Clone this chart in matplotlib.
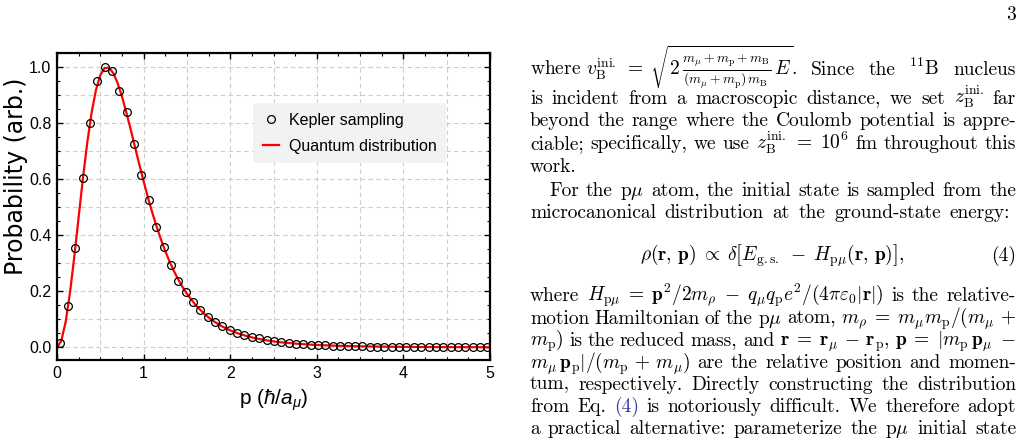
import matplotlib
matplotlib.use("Agg")
import matplotlib.pyplot as plt
from matplotlib.ticker import MultipleLocator
import numpy as np

# ---------------- data ----------------
kepler_p = [0.040, 0.125, 0.210, 0.295, 0.380, 0.465, 0.550, 0.635, 0.720, 0.805,
            0.890, 0.975, 1.060, 1.145, 1.230, 1.315, 1.400, 1.485, 1.570, 1.655,
            1.740, 1.825, 1.910, 1.995, 2.080, 2.165, 2.250, 2.335, 2.420, 2.505,
            2.590, 2.675, 2.760, 2.845, 2.930, 3.015, 3.100, 3.185, 3.270, 3.355,
            3.440, 3.525, 3.610, 3.695, 3.780, 3.865, 3.950, 4.035, 4.120, 4.205,
            4.290, 4.375, 4.460, 4.545, 4.630, 4.715, 4.800, 4.885, 4.970]
kepler_prob = [0.017, 0.147, 0.355, 0.605, 0.800, 0.950, 1.000, 0.987, 0.914, 0.838,
               0.727, 0.614, 0.526, 0.430, 0.358, 0.295, 0.237, 0.198, 0.161, 0.132,
               0.109, 0.090, 0.075, 0.062, 0.052, 0.044, 0.037, 0.032, 0.027, 0.022,
               0.019, 0.015, 0.013, 0.011, 0.010, 0.008, 0.007, 0.006, 0.005, 0.005,
               0.004, 0.004, 0.003, 0.003, 0.003, 0.002, 0.002, 0.002, 0.002, 0.001,
               0.001, 0.001, 0.001, 0.001, 0.001, 0.001, 0.001, 0.001, 0.001]

quantum_p = [0.0, 0.05, 0.10, 0.15, 0.20, 0.25, 0.30, 0.35, 0.40, 0.45, 0.50, 0.55,
             0.60, 0.65, 0.70, 0.75, 0.80, 0.85, 0.90, 0.95, 1.00, 1.05, 1.10, 1.15,
             1.20, 1.25, 1.30, 1.35, 1.40, 1.45, 1.50, 1.60, 1.70, 1.80, 1.90, 2.00,
             2.10, 2.20, 2.30, 2.40, 2.50, 2.60, 2.80, 3.00, 3.25, 3.50, 3.75, 4.00,
             4.25, 4.50, 5.00]
quantum_prob = [0.0, 0.0235, 0.0911, 0.1952, 0.3242, 0.4650, 0.6045, 0.7316, 0.8378,
                0.9182, 0.9709, 0.9965, 0.9978, 0.9783, 0.9426, 0.8948, 0.8388, 0.7782,
                0.7156, 0.6532, 0.5926, 0.5349, 0.4809, 0.4310, 0.3852, 0.3436, 0.3060,
                0.2723, 0.2421, 0.2152, 0.1912, 0.1511, 0.1197, 0.0951, 0.0758, 0.0607,
                0.0488, 0.0395, 0.0320, 0.0262, 0.0214, 0.0177, 0.0122, 0.0085, 0.0056,
                0.0038, 0.0026, 0.0018, 0.0013, 0.0009, 0.0005]

x_ticks = [0, 1, 2, 3, 4, 5]
y_ticks = [0.0, 0.2, 0.4, 0.6, 0.8, 1.0]
x_tick_labels = ["0", "1", "2", "3", "4", "5"]
y_tick_labels = ["0.0", "0.2", "0.4", "0.6", "0.8", "1.0"]
legend_labels = ["Kepler sampling", "Quantum distribution"]
x_label = r"p ($\hbar/a_\mu$)"
y_label = "Probability (arb.)"

# ---------------- figure ----------------
W, H = 1025, 441
plt.rcParams['mathtext.rm'] = 'Liberation Sans'
plt.rcParams['mathtext.it'] = 'Liberation Sans:italic'
plt.rcParams['mathtext.bf'] = 'Liberation Sans:bold'
plt.rcParams['axes.unicode_minus'] = False
SANS = 'Liberation Sans'

fig = plt.figure(figsize=(W / 100, H / 100), dpi=100)
fig.patch.set_facecolor('white')

ax = fig.add_axes([57 / W, 1 - 360 / H, (490 - 57) / W, (360 - 53) / H])
ax.set_xlim(0, 5)
ax.set_ylim(-0.045, 1.05)

# grid (dashed)
for gx in np.arange(0.5, 5.0, 0.5):
    ax.axvline(gx, color='#cccccc', lw=0.8, ls=(0, (4, 3)), zorder=0)
for gy in np.arange(0.0, 1.01, 0.1):
    ax.axhline(gy, color='#cccccc', lw=0.8, ls=(0, (4, 3)), zorder=0)

ax.plot(quantum_p, quantum_prob, color='#ff0000', lw=1.6, zorder=2,
        label=legend_labels[1])
ax.plot(kepler_p, kepler_prob, ls='none', marker='o', ms=5.6, mfc='none',
        mec='black', mew=0.9, zorder=3, label=legend_labels[0])

ax.set_xticks(x_ticks)
ax.set_xticklabels(x_tick_labels)
ax.set_yticks(y_ticks)
ax.set_yticklabels(y_tick_labels)
ax.xaxis.set_minor_locator(MultipleLocator(0.25))
ax.yaxis.set_minor_locator(MultipleLocator(0.05))
ax.tick_params(which='both', direction='in', top=True, right=True, colors='black')
ax.tick_params(which='major', length=4, width=1.0, labelsize=11.5, pad=4)
ax.tick_params(which='minor', length=2, width=0.8)
for lab in ax.get_xticklabels() + ax.get_yticklabels():
    lab.set_family(SANS)
for sp in ax.spines.values():
    sp.set_linewidth(1.6)
    sp.set_color('black')

ax.set_xlabel(x_label, fontsize=15, family=SANS, math_fontfamily='custom', labelpad=5)
ax.set_ylabel(y_label, fontsize=17, family='DejaVu Sans')
ax.yaxis.set_label_coords(-0.066, 0.599)

handles, labels = ax.get_legend_handles_labels()
leg = ax.legend([handles[1], handles[0]], [labels[1], labels[0]],
                loc='upper left', bbox_to_anchor=(0.453, 0.837), borderaxespad=0,
                prop={'family': SANS, 'size': 11.5}, frameon=True, fancybox=True,
                facecolor='#f2f2f2', edgecolor='none', framealpha=1,
                handlelength=1.0, handletextpad=0.65, borderpad=0.6, labelspacing=0.7)

# ---------------- page text (right column) ----------------
FS = 14
renderer = fig.canvas.get_renderer()
X0, X1 = 530, 1016
SPACE = FS * 100 / 72 * 0.333


def place_line(tokens, ybase, x0=X0, x1=X1, justify=True):
    texts = []
    for tok in tokens:
        if isinstance(tok, tuple):
            s, c = tok
        else:
            s, c = tok, 'black'
        t = fig.text(0, 1 - ybase / H, s, fontsize=FS, family='cmr10', color=c,
                     va='baseline', ha='left', math_fontfamily='cm')
        texts.append(t)
    widths = [t.get_window_extent(renderer).width for t in texts]
    if justify and len(texts) > 1:
        gap = (x1 - x0 - sum(widths)) / (len(texts) - 1)
    else:
        gap = SPACE
    x = x0
    for t, w in zip(texts, widths):
        t.set_x(x / W)
        x += w + gap


fig.text(1016 / W, 1 - 20 / H, "3", fontsize=FS, family='cmr10', ha='right',
         va='baseline')

lines = [
    ([r"where $v_\mathrm{B}^\mathrm{ini.}\;=\;\sqrt{2\,\frac{m_\mu+m_\mathrm{p}+m_\mathrm{B}}{(m_\mu+m_\mathrm{p})\,m_\mathrm{B}}\,E}$.",
      "Since", "the", r"$^{11}$B", "nucleus"], 75, X0, True),
    (["is", "incident", "from", "a", "macroscopic", "distance,", "we", "set",
      r"$z_\mathrm{B}^\mathrm{ini.}$", "far"], 103.5, X0, True),
    (["beyond", "the", "range", "where", "the", "Coulomb", "potential", "is",
      "appre-"], 126, X0, True),
    (["ciable;", "specifically,", "we", "use", r"$z_\mathrm{B}^\mathrm{ini.}\;=\;10^6$",
      "fm", "throughout", "this"], 149, X0, True),
    (["work."], 172.5, X0, False),
    (["For", "the", r"p$\mu$", "atom,", "the", "initial", "state", "is", "sampled",
      "from", "the"], 196, 549, True),
    (["microcanonical", "distribution", "at", "the", "ground-state", "energy:"],
     217.5, X0, 'partial'),
    (["where",
      r"$H_{\mathrm{p}\mu}\;=\;\mathbf{p}^2/2m_\rho\;-\;q_\mu q_\mathrm{p}e^2/(4\pi\varepsilon_0|\mathbf{r}|)$",
      "is", "the", "relative-"], 301, X0, True),
    (["motion", "Hamiltonian", "of", "the", r"p$\mu$", "atom,",
      r"$m_\rho\;=\;m_\mu m_\mathrm{p}/(m_\mu\,+$"], 323.5, X0, True),
    ([r"$m_\mathrm{p}$)", "is", "the", "reduced", "mass,", "and",
      r"$\mathbf{r}\;=\;\mathbf{r}_\mu\,-\,\mathbf{r}_\mathrm{p}$,",
      r"$\mathbf{p}\;=\;|m_\mathrm{p}\,\mathbf{p}_\mu\;-$"], 345.5, X0, True),
    ([r"$m_\mu\,\mathbf{p}_\mathrm{p}|/(m_\mathrm{p}\,+\,m_\mu)$", "are", "the",
      "relative", "position", "and", "momen-"], 368.5, X0, True),
    (["tum,", "respectively.", "Directly", "constructing", "the", "distribution"],
     389.5, X0, True),
    (["from", "Eq.", ("(4)", '#3333a0'), "is", "notoriously", "difficult.", "We",
      "therefore", "adopt"], 411.5, X0, True),
    (["a", "practical", "alternative:", "parameterize", "the", r"p$\mu$", "initial",
      "state"], 434, X0, True),
]
for toks, yb, x0, just in lines:
    if just == 'partial':
        place_line(toks, yb, x0, 1010, True)
    else:
        place_line(toks, yb, x0, X1, just)

# display equation (4)
fig.text(772 / W, 1 - 261 / H,
         r"$\rho(\mathbf{r},\,\mathbf{p})\;\propto\;\delta\left[E_\mathrm{g.s.}\;-\;H_{\mathrm{p}\mu}(\mathbf{r},\,\mathbf{p})\right],$",
         fontsize=FS, family='cmr10', ha='center', va='baseline', math_fontfamily='cm')
fig.text(X1 / W, 1 - 261 / H, "(4)", fontsize=FS, family='cmr10', ha='right',
         va='baseline')

fig.savefig("out.png", dpi=100, facecolor='white')
